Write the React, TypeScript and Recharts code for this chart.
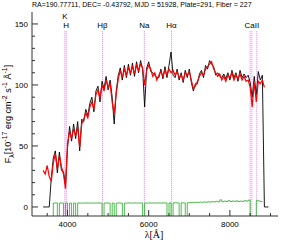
import { LineChart, Line, XAxis, YAxis, ReferenceLine } from 'recharts';

// wavelength grid (Angstrom)
const waves = [
  3400, 3450, 3500, 3550, 3600, 3650, 3700, 3750, 3800, 3850,
  3900, 3950, 4000, 4050, 4100, 4150, 4200, 4250, 4300, 4350,
  4400, 4450, 4500, 4550, 4600, 4650, 4700, 4750, 4800, 4850,
  4900, 4950, 5000, 5050, 5100, 5150, 5200, 5250, 5300, 5350,
  5400, 5450, 5500, 5550, 5600, 5650, 5700, 5750, 5800, 5850,
  5900, 5950, 6000, 6050, 6100, 6150, 6200, 6250, 6300, 6350,
  6400, 6450, 6500, 6550, 6600, 6650, 6700, 6750, 6800, 6850,
  6900, 6950, 7000, 7050, 7100, 7150, 7200, 7250, 7300, 7350,
  7400, 7450, 7500, 7550, 7600, 7650, 7700, 7750, 7800, 7850,
  7900, 7950, 8000, 8050, 8100, 8150, 8200, 8250, 8300, 8350,
  8400, 8450, 8500, 8550, 8600, 8650, 8700, 8750, 8800, 8850,
  8900, 8950,
];

// observed flux
const flux = [
  0, 0, 0, 0, 24, 40, 46, 28, 45, 30,
  29, 18, 48, 66, 54, 68, 56, 70, 46, 72,
  70, 80, 75, 85, 90, 78, 95, 99, 86, 103,
  97, 107, 96, 104, 90, 68, 95, 108, 114, 104,
  116, 106, 117, 108, 118, 107, 119, 110, 120, 113,
  82, 114, 119, 111, 110, 108, 106, 106, 113, 105,
  115, 106, 116, 127, 108, 106, 113, 104, 110, 102,
  112, 106, 113, 102, 95, 101, 101, 109, 112, 106,
  116, 113, 120, 117, 115, 108, 110, 107, 106, 109,
  105, 110, 104, 112, 106, 110, 103, 112, 106, 109,
  106, 108, 102, 90, 107, 92, 111, 104, 108, 0,
  0, 0,
];

// model / smoothed flux
const model = [
  30, 27, 34, 25, 21, 36, 44, 31, 42, 33,
  27, 15, 52, 62, 56, 64, 58, 66, 49, 68,
  72, 77, 73, 82, 86, 80, 92, 96, 89, 100,
  95, 104, 98, 101, 86, 77, 93, 105, 112, 106,
  113, 108, 114, 110, 115, 109, 116, 112, 117, 114,
  100, 112, 116, 113, 107, 110, 104, 108, 111, 107,
  112, 108, 113, 110, 112, 108, 111, 106, 108, 104,
  110, 108, 111, 104, 97, 99, 103, 107, 110, 108,
  113, 115, 117, 119, 113, 110, 107, 109, 104, 107,
  103, 108, 106, 110, 104, 108, 105, 109, 104, 107,
  103, 104, 98, 82, 102, 86, 103, 101, 104, 98,
  null, null,
];

// error array
const err = [
  null, null, null, null, -8, 3.2, 3.3, -8, 3.2, 3.3,
  -8, 3.3, -8, 3.2, -8, 3.2, -8, 3.3, 3.2, 3.2,
  3.2, 3.3, 3.2, 3.2, 3.3, 3.2, 3.2, 3.3, 3.2, -8,
  3.2, 3.3, 3.2, -8, 3.2, -8, 3.2, 3.3, 3.2, -8,
  3.2, 3.2, 3.3, 3.2, 3.2, 3.3, 3.2, 3.2, 3.3, -8,
  3.3, 3.2, 3.3, 3.2, 3.3, 3.2, 3.3, 3.3, 3.2, 3.3,
  3.3, -8, 3.3, -8, 3.3, 3.4, 3.3, -8, 3.4, 3.3,
  -8, 3.5, 3.6, 3.8, 3.6, 3.9, 3.7, 4.0, 3.8, 4.1,
  3.9, 4.2, 4.0, 4.4, 4.1, 4.6, 4.2, 5.8, 4.3, 4.8,
  4.4, 5.2, 4.5, 4.9, 4.6, 5.0, 4.5, 4.8, 4.6, 5.1,
  4.8, 5.6, -8, -8, -8, 5.2, 4.9, 4.4, 4.0, null,
  null, null,
];

// spectral line markers
const lineWaves = [3934, 3969, 4861, 5893, 6563, 8498, 8542, 8662];
const lineNames = ['K', 'H', 'Hβ', 'Na', 'Hα', '', 'CaII', ''];

const xTicks = [3500, 4000, 4500, 5000, 5500, 6000, 6500, 7000, 7500, 8000, 8500, 9000];
const xMajor = [4000, 6000, 8000];
const yTicks = [0, 10, 20, 30, 40, 50, 60, 70, 80, 90, 100, 110, 120, 130, 140, 150];
const yMajor = [0, 50, 100, 150];

const X_DOMAIN = [3125, 9185];
const Y_DOMAIN = [-7.4, 159.8];
const LINE_TOP = 144;

const data = waves.map((w, i) => ({ w, flux: flux[i], model: model[i], err: err[i] }));

const FRAME = '#333';
const FONT = 'Liberation Sans, Arial, sans-serif';

const BottomTick = (props: any) => {
  const { x, y, payload } = props;
  const major = xMajor.includes(payload.value);
  return (
    <g>
      <line x1={x} y1={y} x2={x} y2={y - (major ? 6 : 3)} stroke={FRAME} />
      {major && (
        <text x={x} y={y + 11} textAnchor="middle" fontSize={8} fontFamily={FONT} fill="#000">
          {payload.value}
        </text>
      )}
    </g>
  );
};

const TopTick = (props: any) => {
  const { x, y, payload } = props;
  const major = xMajor.includes(payload.value);
  return <line x1={x} y1={y} x2={x} y2={y + (major ? 6 : 3)} stroke={FRAME} />;
};

const LeftTick = (props: any) => {
  const { x, y, payload } = props;
  const major = yMajor.includes(payload.value);
  return (
    <g>
      <line x1={x} y1={y} x2={x + (major ? 6 : 3)} y2={y} stroke={FRAME} />
      {major && (
        <text x={x - 4} y={y + 3} textAnchor="end" fontSize={8} fontFamily={FONT} fill="#000">
          {payload.value}
        </text>
      )}
    </g>
  );
};

const RightTick = (props: any) => {
  const { x, y, payload } = props;
  const major = yMajor.includes(payload.value);
  return <line x1={x} y1={y} x2={x - (major ? 6 : 3)} y2={y} stroke={FRAME} />;
};

export default function App() {
  return (
    <div style={{ position: 'absolute', left: 0, top: 0, width: 293, height: 243, background: '#fff' }}>
      <div
        style={{
          position: 'absolute',
          left: 32,
          top: 1,
          fontSize: 7,
          fontFamily: FONT,
          whiteSpace: 'nowrap',
          color: '#000',
        }}
      >
        RA=190.77711, DEC= -0.43792, MJD = 51928, Plate=291, Fiber = 227
      </div>
      <div
        style={{
          position: 'absolute',
          left: 8,
          top: 114,
          transform: 'translate(-50%, -50%) rotate(-90deg)',
          fontSize: 9,
          fontFamily: FONT,
          whiteSpace: 'nowrap',
          color: '#000',
        }}
      >
        F<sub style={{ fontSize: 7 }}>λ</sub>[10<sup style={{ fontSize: 7 }}>-17</sup> erg cm<sup style={{ fontSize: 7 }}>-2</sup> s<sup style={{ fontSize: 7 }}>-1</sup> Å<sup style={{ fontSize: 7 }}>-1</sup>]
      </div>
      <div
        style={{
          position: 'absolute',
          left: 154,
          top: 234,
          transform: 'translate(-50%, -50%)',
          fontSize: 10,
          fontFamily: 'Liberation Serif, serif',
          whiteSpace: 'nowrap',
          color: '#000',
        }}
      >
        λ[Å]
      </div>
      <LineChart width={293} height={243} data={data} margin={{ top: 12, right: 15, bottom: 0, left: 0 }}>
        <XAxis
          dataKey="w"
          type="number"
          domain={X_DOMAIN}
          allowDataOverflow
          ticks={xTicks}
          interval={0}
          height={27}
          tickSize={0}
          tickMargin={0}
          tickLine={false}
          axisLine={{ stroke: FRAME }}
          tick={BottomTick}
        />
        <XAxis
          xAxisId="top"
          orientation="top"
          dataKey="w"
          type="number"
          domain={X_DOMAIN}
          allowDataOverflow
          ticks={xTicks}
          interval={0}
          height={0}
          tickSize={0}
          tickMargin={0}
          tickLine={false}
          axisLine={{ stroke: FRAME }}
          tick={TopTick}
        />
        <YAxis
          type="number"
          domain={Y_DOMAIN}
          allowDataOverflow
          ticks={yTicks}
          interval={0}
          width={32}
          tickSize={0}
          tickMargin={0}
          tickLine={false}
          axisLine={{ stroke: FRAME }}
          tick={LeftTick}
        />
        <YAxis
          yAxisId="right"
          orientation="right"
          type="number"
          domain={Y_DOMAIN}
          allowDataOverflow
          ticks={yTicks}
          interval={0}
          width={0}
          tickSize={0}
          tickMargin={0}
          tickLine={false}
          axisLine={{ stroke: FRAME }}
          tick={RightTick}
        />
        {lineWaves.map((lw, i) => (
          <ReferenceLine
            key={lw}
            segment={[
              { x: lw, y: LINE_TOP },
              { x: lw, y: Y_DOMAIN[0] },
            ]}
            ifOverflow="hidden"
            stroke="#ff66ff"
            strokeDasharray="1 1"
            label={
              lineNames[i]
                ? {
                    value: lineNames[i],
                    position: 'top',
                    offset: lineNames[i] === 'K' ? 12 : 3,
                    fontSize: 8,
                    fontFamily: FONT,
                    fill: '#000',
                  }
                : undefined
            }
          />
        ))}
        <Line dataKey="err" type="stepAfter" stroke="#22aa22" strokeWidth={0.8} dot={false} isAnimationActive={false} connectNulls={false} />
        <Line dataKey="flux" type="linear" stroke="#000" strokeWidth={0.9} dot={false} isAnimationActive={false} connectNulls={false} />
        <Line dataKey="model" type="linear" stroke="#ff0000" strokeWidth={1.2} dot={false} isAnimationActive={false} connectNulls={false} />
      </LineChart>
    </div>
  );
}
